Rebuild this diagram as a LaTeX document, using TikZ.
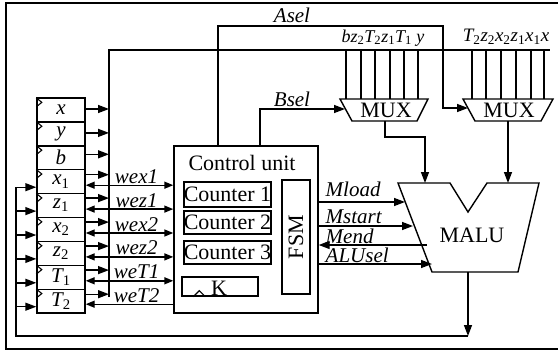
\documentclass[tikz,border=0pt]{standalone}
\usepackage{fontspec}
\setmainfont{Liberation Serif}
\usetikzlibrary{arrows.meta}
\newcommand\sbs[1]{\textsubscript{\upshape #1}}
\begin{document}
\begin{tikzpicture}[x=1pt,y=-1pt,line width=1.4pt,
  arr/.style={-{Triangle[length=11pt,width=8pt]}},
  darr/.style={{Triangle[length=9pt,width=7pt]}-{Triangle[length=9pt,width=7pt]}},
  reg/.style={draw,rectangle,minimum width=48pt,minimum height=23.9pt,inner sep=0pt,font=\fontsize{21}{22}\selectfont\itshape},
  box/.style={draw,rectangle,inner sep=0pt},
  lbl/.style={inner sep=0pt,font=\fontsize{21}{23}\selectfont\itshape},
  big/.style={inner sep=0pt,font=\fontsize{22}{24}\selectfont}]
\useasboundingbox (0,0) rectangle (558,351);
% frame
\draw[line width=1.6pt] (558,3) -- (6,3) -- (6,349) -- (558,349);
% registers
\node[reg] (rx)  at (61,110)   {x};
\node[reg] (ry)  at (61,133.9) {y};
\node[reg] (rb)  at (61,157.8) {b};
\node[reg] (rx1) at (61,181.7) {x\sbs{1}};
\node[reg] (rz1) at (61,205.6) {z\sbs{1}};
\node[reg] (rx2) at (61,229.5) {x\sbs{2}};
\node[reg] (rz2) at (61,253.4) {z\sbs{2}};
\node[reg] (rT1) at (61,277.3) {T\sbs{1}};
\node[reg] (rT2) at (61,301.2) {T\sbs{2}};
\foreach \r in {rx,ry,rb,rx1,rz1,rx2,rz2,rT1,rT2}
  \draw[line width=1.1pt] ([yshift=-0.5pt]\r.north west) -- ++(5.5,4.5) -- ++(-5.5,4.5);
% bus
\coordinate (busT) at (109,50);
\coordinate (busE) at (550,50);
\coordinate (busB) at (109,297);
\draw (busB) -- (busT) -- (busE);
\foreach \r/\s in {rx/1,ry/1,rb/3.5,rx1/7,rz1/7.5,rx2/7.4,rz2/7.3,rT1/7.2,rT2/7}
  \draw[arr] ([yshift=\s pt]\r.east) -- ([yshift=\s pt]\r.east -| busT);
% control unit
\node[box,minimum width=144pt,minimum height=167pt] (cu) at (246,229.5) {};
\node[big] (cut) at (242,163) {Control unit};
\node[box,big,line width=1.6pt,minimum width=85pt,minimum height=25pt] (c1) at (227.5,194.5) {Counter 1};
\node[box,big,line width=1.6pt,minimum width=85pt,minimum height=23pt] (c2) at (227.5,222.5) {Counter 2};
\node[box,big,line width=1.6pt,minimum width=85pt,minimum height=23pt] (c3) at (227.5,252.5) {Counter 3};
\node[box,minimum width=76pt,minimum height=19pt] (kb) at (220,286.5) {};
\node[big] (kt) at (219,288) {K};
\draw[line width=1.1pt] ([xshift=12pt]kb.south west) -- ++(6,-6) -- ++(6,6);
\node[box,big,rotate=90,minimum width=114pt,minimum height=28pt] (fsm) at (296,237) {FSM};
% register <-> control unit
\foreach \r/\t in {rx1/wex1,rz1/wez1,rx2/wex2,rz2/wez2,rT1/weT1}
  \draw[darr] ([yshift=-3.5pt]\r.east) -- node[lbl,anchor=south,pos=0.58,yshift=1pt]{\t} ([yshift=-3.5pt]\r.east -| cu.west);
\draw[-{Triangle[length=9pt,width=7pt]}] ([yshift=-3pt]rT2.east -| cu.west) -- node[lbl,anchor=south,pos=0.42,yshift=1pt]{weT2} ([yshift=-3pt]rT2.east);
% feedback
\coordinate (fb) at (468,336);
\coordinate (fbL) at (16,336);
\draw[arr] (fb) -- (fbL) -- ([yshift=-5.5pt]rx1.west -| fbL) -- ([yshift=-5.5pt]rx1.west);
\foreach \r in {rz1,rx2,rz2,rT1,rT2}
  \draw[arr] ([yshift=-5.5pt]\r.west -| fbL) -- ([yshift=-5.5pt]\r.west);
% MUXes
\coordinate (mL1) at (340,99); \coordinate (mL2) at (428,99);
\coordinate (mL3) at (417,121); \coordinate (mL4) at (352,121);
\draw (mL1) -- (mL2) -- (mL3) -- (mL4) -- cycle;
\node[big] (muxL) at (386,110.5) {MUX};
\coordinate (mR1) at (463,99); \coordinate (mR2) at (553,99);
\coordinate (mR3) at (541,121); \coordinate (mR4) at (475,121);
\draw (mR1) -- (mR2) -- (mR3) -- (mR4) -- cycle;
\node[big] (muxR) at (509,110.5) {MUX};
\foreach \x in {346,361,375,390,404,418,472,486,501,516,531,544}
  \draw (\x,50) -- (\x,99);
\node[inner sep=0pt,font=\fontsize{18}{20}\selectfont\itshape] (lblL) at (383,38) {bz\sbs{2}T\sbs{2}z\sbs{1}T\sbs{1}\ y};
\node[inner sep=0pt,font=\fontsize{19}{21}\selectfont\itshape] (lblR) at (506,37) {T\sbs{2}z\sbs{2}x\sbs{2}z\sbs{1}x\sbs{1}x};
% Asel, Bsel
\coordinate (a1) at (218,26); \coordinate (a2) at (443,26);
\coordinate (a3) at (443,108); \coordinate (a4) at (468,108);
\draw[arr] (a1 |- cu.north) -- (a1) -- (a2) -- (a3) -- (a4);
\node[lbl] (asel) at (292,15) {Asel};
\coordinate (b1) at (260,109); \coordinate (b2) at (345,109);
\draw[arr] (b1 |- cu.north) -- (b1) -- (b2);
\node[lbl] (bsel) at (292,99) {Bsel};
% MALU
\coordinate (A1) at (398,183); \coordinate (A2) at (450,183);
\coordinate (A3) at (468,212); \coordinate (A4) at (487,183);
\coordinate (A5) at (539,183); \coordinate (A6) at (518,272);
\coordinate (A7) at (432,272);
\draw (A1) -- (A2) -- (A3) -- (A4) -- (A5) -- (A6) -- (A7) -- cycle;
\node[big] (malu) at (472,235) {MALU};
\coordinate (mLo) at (385,121);
\draw[arr] (mLo) -- ++(0,16) -| (425,183);
\draw[arr] (508,121) -- (508,183);
\draw[arr] (468,272) -- (fb);
% control signals
\draw[arr] (cu.east |- 0,202) -- (405,202);
\draw[arr] (cu.east |- 0,226) -- (413,226);
\draw[arr] (427,245) -- (cu.east |- 0,245);
\draw[arr] (cu.east |- 0,264) -- (432,264);
\node[lbl,anchor=base west] (ml) at (325,196) {Mload};
\node[lbl,anchor=base west] (ms) at (325,223.5) {Mstart};
\node[lbl,anchor=base west] (me) at (325,243.5) {Mend};
\node[lbl,anchor=base west] (as) at (325,262.5) {ALUsel};
\end{tikzpicture}
\end{document}
